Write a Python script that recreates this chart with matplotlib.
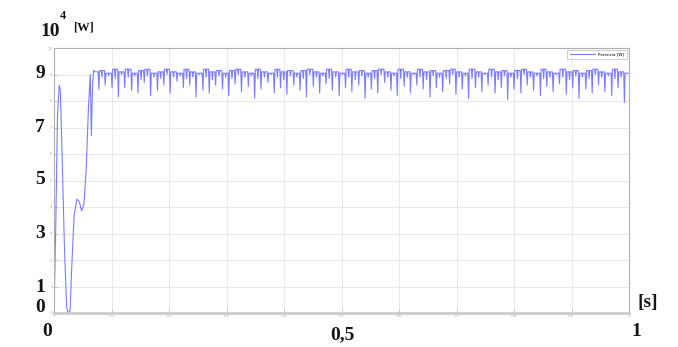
import matplotlib
matplotlib.use("Agg")
import matplotlib.pyplot as plt

# start-up transient (t [s], P [x1e4 W])
t_start = [0.0, 0.003, 0.006, 0.009, 0.011, 0.014, 0.018, 0.022, 0.025, 0.028, 0.031,
           0.035, 0.040, 0.044, 0.048, 0.052, 0.056, 0.060, 0.063, 0.065, 0.067, 0.069, 0.072]
p_start = [0.0, 3.2, 7.4, 8.6, 8.4, 6.0, 2.6, 0.2, 0.0, 0.1, 1.8,
           3.7, 4.3, 4.2, 3.85, 4.1, 5.4, 7.8, 9.0, 6.7, 8.6, 9.15, 9.1]

# steady state: dip instants, dip bottoms, level after each dip, small notch between dips
dip_t = [0.078, 0.089, 0.101, 0.112, 0.123, 0.135, 0.146, 0.157, 0.168, 0.180,
         0.191, 0.202, 0.214, 0.225, 0.236, 0.247, 0.259, 0.270, 0.281, 0.293,
         0.304, 0.315, 0.326, 0.338, 0.349, 0.360, 0.372, 0.383, 0.394, 0.405,
         0.417, 0.428, 0.439, 0.451, 0.462, 0.473, 0.484, 0.496, 0.507, 0.518,
         0.530, 0.541, 0.552, 0.563, 0.575, 0.586, 0.597, 0.609, 0.620, 0.631,
         0.642, 0.654, 0.665, 0.676, 0.688, 0.699, 0.710, 0.721, 0.733, 0.744,
         0.755, 0.767, 0.778, 0.789, 0.800, 0.812, 0.823, 0.834, 0.846, 0.857,
         0.868, 0.879, 0.891, 0.902, 0.913, 0.925, 0.936, 0.947, 0.958, 0.970,
         0.981, 0.992]
dip_p = [8.45, 8.6, 8.5, 8.15, 8.5, 8.4, 8.3, 8.7, 8.2, 8.4,
         8.6, 8.3, 8.75, 8.5, 8.6, 8.15, 8.4, 8.3, 8.6, 8.45,
         8.2, 8.65, 8.35, 8.55, 8.1, 8.45, 8.7, 8.3, 8.5, 8.25,
         8.6, 8.4, 8.15, 8.55, 8.3, 8.65, 8.4, 8.2, 8.5, 8.35,
         8.6, 8.1, 8.45, 8.3, 8.7, 8.4, 8.2, 8.55, 8.3, 8.6,
         8.45, 8.15, 8.5, 8.35, 8.65, 8.25, 8.45, 8.1, 8.5, 8.35,
         8.6, 8.3, 8.5, 8.05, 8.45, 8.3, 8.6, 8.4, 8.2, 8.55,
         8.35, 8.65, 8.25, 8.5, 8.1, 8.45, 8.3, 8.6, 8.35, 8.2,
         8.5, 7.95]
top_p = [9.15, 9.05, 9.2, 9.1, 9.2, 9.05, 9.15, 9.2, 9.05, 9.1,
         9.2, 9.1, 9.05, 9.2, 9.1, 9.05, 9.2, 9.1, 9.15, 9.05,
         9.15, 9.2, 9.1, 9.05, 9.2, 9.1, 9.05, 9.2, 9.1, 9.15,
         9.05, 9.15, 9.2, 9.1, 9.05, 9.2, 9.1, 9.05, 9.2, 9.1,
         9.15, 9.05, 9.15, 9.2, 9.1, 9.05, 9.2, 9.1, 9.05, 9.2,
         9.1, 9.15, 9.05, 9.15, 9.2, 9.1, 9.05, 9.2, 9.1, 9.05,
         9.2, 9.1, 9.15, 9.05, 9.15, 9.2, 9.1, 9.05, 9.2, 9.1,
         9.05, 9.2, 9.1, 9.15, 9.05, 9.15, 9.2, 9.1, 9.05, 9.2,
         9.1, 9.05]
notch_p = [8.9, 8.95, 8.85, 9.0, 8.9, 8.95, 8.8, 8.95, 8.9, 8.85,
           9.0, 8.9, 8.95, 8.85, 8.9, 9.0, 8.9, 8.8, 8.95, 8.9,
           8.85, 9.0, 8.9, 8.95, 8.85, 8.9, 9.0, 8.9, 8.8, 8.95,
           8.9, 8.85, 9.0, 8.9, 8.95, 8.85, 8.9, 9.0, 8.9, 8.8,
           8.95, 8.9, 8.85, 9.0, 8.9, 8.95, 8.85, 8.9, 9.0, 8.9,
           8.8, 8.95, 8.9, 8.85, 9.0, 8.9, 8.95, 8.85, 8.9, 9.0,
           8.9, 8.8, 8.95, 8.9, 8.85, 9.0, 8.9, 8.95, 8.85, 8.9,
           9.0, 8.9, 8.8, 8.95, 8.9, 8.85, 9.0, 8.9, 8.95, 8.85,
           8.9, 8.95]

x_ticks = [0, 0.1, 0.2, 0.3, 0.4, 0.5, 0.6, 0.7, 0.8, 0.9, 1]
y_ticks = [0, 1, 2, 3, 4, 5, 6, 7, 8, 9, 10]

# build the trace: start-up, then sharp dips and small notches on the ~9.1 plateau
t = list(t_start)
p = list(p_start)
prev_top = p_start[-1]
for i, (td, pd, pt) in enumerate(zip(dip_t, dip_p, top_p)):
    t += [td - 0.0012, td, td + 0.0012]
    p += [prev_top, pd, pt]
    if i + 1 < len(dip_t):
        tn = 0.5 * (td + dip_t[i + 1])
        t += [tn - 0.001, tn, tn + 0.001]
        p += [pt, notch_p[i], pt]
    prev_top = pt
t.append(1.0)
p.append(prev_top)

W, H = 678, 347
fig = plt.figure(figsize=(W / 100, H / 100), dpi=100)
ax = fig.add_axes([54 / W, 1 - 313 / H, (629 - 54) / W, (313 - 48) / H])

ax.plot(t, p, color="#7c7cff", lw=0.8, label="Potencia [W]")
ax.set_xlim(0, 1)
ax.set_ylim(0, 10)
ax.set_xticks(x_ticks)
ax.set_yticks(y_ticks)
ax.set_xticklabels([f"{v:g}" for v in x_ticks])
ax.set_yticklabels([f"{v:g}" for v in y_ticks])
ax.tick_params(direction="in", length=2, width=0.5, colors="#aaaaaa", labelsize=3, pad=1)
ax.grid(True, color="#e4e4e4", lw=0.6)
for s in ax.spines.values():
    s.set_color("#b0b0b0")
    s.set_linewidth(0.8)
ax.spines["bottom"].set_linewidth(1.8)
ax.spines["bottom"].set_color("#c8c8c8")

leg = ax.legend(loc="upper right", fontsize=3, handlelength=6, frameon=True,
                borderpad=0.6, fancybox=False)
leg.get_frame().set_edgecolor("#aaaaaa")
leg.get_frame().set_linewidth(0.5)

# bold overlay annotations
def label(x, y, s, size=14):
    fig.text(x / W, 1 - y / H, s, ha="center", va="center", fontsize=size,
             fontweight="bold", family="Liberation Serif", color="#151515")

label(50, 32, "10")
label(63, 16, "4", 9)
label(84, 27, "[W]", 9)
for val, yp in [("9", 74), ("7", 127), ("5", 180), ("3", 234), ("1", 287), ("0", 308)]:
    label(40, yp, val)
label(47, 331, "0")
label(342, 335, "0,5")
label(636, 332, "1")
label(648, 303, "[s]")

fig.savefig("out.png", dpi=100)
